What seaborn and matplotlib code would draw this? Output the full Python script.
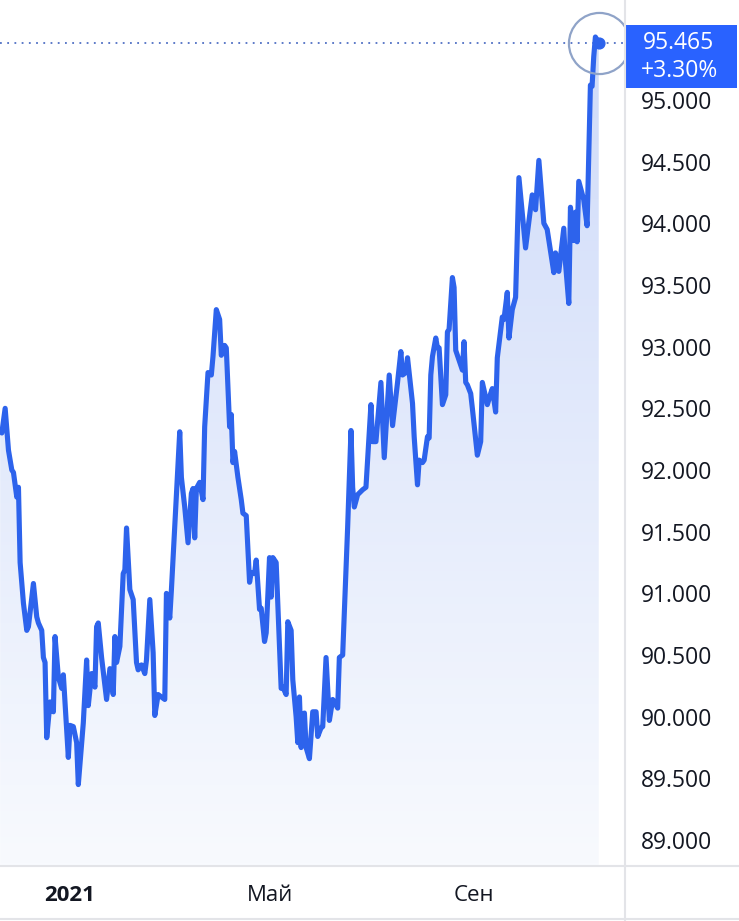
import numpy as np
import pandas as pd
import seaborn as sns
import matplotlib.pyplot as plt
import matplotlib.dates as mdates
from matplotlib.colors import LinearSegmentedColormap
from matplotlib.patches import Rectangle
from matplotlib.lines import Line2D

# DATA: DAY OFFSET FROM 2021-01-01 AND INDEX VALUE
days = [-42, -41, -39, -37, -35, -34, -32, -31, -30, -28, -26, -25, -22, -20, -19, -17,
        -16, -15, -14, -12, -10, -9, -7, -5, -4, -1, 0, 2, 4, 5, 8, 10,
        11, 13, 15, 16, 17, 19, 22, 24, 26, 27, 28, 30, 32, 33, 34, 36,
        38, 40, 41, 43, 45, 46, 48, 50, 51, 53, 55, 57, 58, 60, 61, 66,
        67, 69, 71, 73, 74, 75, 76, 78, 80, 81, 83, 85, 86, 88, 90, 91,
        93, 94, 96, 97, 98, 99, 101, 103, 104, 106, 108, 109, 111, 112, 114, 115,
        117, 118, 120, 121, 122, 124, 127, 128, 130, 131, 133, 134, 136, 137, 138, 139,
        141, 142, 144, 146, 148, 149, 151, 152, 154, 156, 158, 159, 161, 162, 164, 167,
        169, 170, 171, 173, 176, 178, 181, 182, 184, 187, 189, 192, 194, 197, 199, 200,
        202, 203, 206, 207, 209, 210, 212, 213, 215, 216, 217, 218, 220, 221, 222, 224,
        225, 226, 227, 228, 230, 231, 232, 234, 236, 237, 238, 239, 241, 242, 245, 247,
        248, 251, 253, 254, 256, 257, 260, 261, 263, 264, 266, 268, 270, 274, 278, 280,
        282, 285, 287, 291, 292, 294, 297, 298, 300, 301, 303, 304, 305, 306, 309, 311,
        313, 314, 315, 316, 318]
values = [92.32, 92.30, 92.50, 92.16, 92.00, 91.98, 91.78, 91.86, 91.25, 90.92, 90.70, 90.73, 91.08, 90.81, 90.76, 90.70,
          90.48, 90.44, 89.83, 90.12, 90.04, 90.65, 90.32, 90.23, 90.34, 89.67, 89.93, 89.92, 89.79, 89.45, 89.95, 90.46,
          90.09, 90.35, 90.24, 90.73, 90.76, 90.48, 90.14, 90.39, 90.18, 90.65, 90.44, 90.57, 91.16, 91.19, 91.53, 91.03,
          90.95, 90.44, 90.38, 90.42, 90.35, 90.46, 90.95, 90.52, 90.01, 90.18, 90.16, 90.14, 91.00, 90.80, 91.03, 92.31,
          91.94, 91.70, 91.41, 91.81, 91.85, 91.45, 91.85, 91.90, 91.76, 92.35, 92.79, 92.77, 92.92, 93.30, 93.22, 92.93,
          93.01, 92.99, 92.35, 92.45, 92.06, 92.15, 91.94, 91.76, 91.65, 91.63, 91.09, 91.17, 91.16, 91.27, 90.87, 90.88,
          90.61, 90.68, 91.29, 90.97, 91.29, 91.25, 90.23, 90.24, 90.18, 90.77, 90.70, 90.30, 90.00, 89.79, 90.16, 89.75,
          90.03, 89.75, 89.66, 90.04, 90.04, 89.84, 89.91, 89.92, 90.48, 89.97, 90.14, 90.12, 90.07, 90.48, 90.50, 91.54,
          92.32, 91.86, 91.70, 91.80, 91.84, 91.86, 92.53, 92.23, 92.23, 92.71, 92.10, 92.77, 92.36, 92.71, 92.96, 92.77,
          92.79, 92.91, 92.54, 92.27, 91.88, 92.08, 92.06, 92.08, 92.27, 92.26, 92.77, 92.92, 93.07, 92.99, 92.99, 92.53,
          92.57, 92.61, 93.12, 93.14, 93.56, 93.48, 92.97, 92.89, 92.81, 93.04, 92.71, 92.69, 92.62, 92.50, 92.12, 92.23,
          92.71, 92.53, 92.62, 92.66, 92.47, 92.91, 93.24, 93.22, 93.44, 93.07, 93.30, 93.40, 94.37, 93.80, 94.23, 94.11,
          94.51, 94.00, 93.95, 93.60, 93.76, 93.61, 93.96, 93.68, 93.35, 94.13, 93.86, 94.09, 93.85, 94.34, 94.19, 93.98,
          95.12, 95.11, 95.35, 95.51, 95.465]

last_price = "95.465"
last_change = "+3.30%"
y_ticks = [89.0, 89.5, 90.0, 90.5, 91.0, 91.5, 92.0, 92.5, 93.0, 93.5, 94.0, 94.5, 95.0]
x_tick_dates = ["2021-01-01", "2021-05-01", "2021-09-01"]
x_tick_labels = ["2021", "Май", "Сен"]

BLUE = "#2962FF"
LINE_BLUE = "#2D63EC"
SEP_GRAY = "#E3E4E8"

base = pd.Timestamp("2021-01-01")
df = pd.DataFrame({"date": base + pd.to_timedelta(days, unit="D"), "value": values})

sns.set_style("white")
plt.rcParams["font.family"] = ["Open Sans", "DejaVu Sans"]

fig = plt.figure(figsize=(7.39, 9.21), dpi=100)
ax = fig.add_axes([0, 1 - 866 / 921, 623 / 739, 866 / 921])

x0 = base + pd.Timedelta(days=-42.1)
x1 = base + pd.Timedelta(days=332.6)
ymin, ymax = 88.79, 95.81

# GRADIENT FILL UNDER THE LINE
xnum = mdates.date2num(df["date"])
poly = ax.fill_between(df["date"], df["value"], ymin, color="none", lw=0)
cmap = LinearSegmentedColormap.from_list("grad", ["#F8FAFE", "#CFDBF9"])
grad = np.linspace(0, 1, 256).reshape(-1, 1)
img = ax.imshow(grad, cmap=cmap, aspect="auto", origin="lower",
                extent=[xnum.min(), xnum.max(), ymin, df["value"].max()], zorder=1)
img.set_clip_path(poly.get_paths()[0], transform=ax.transData)

sns.lineplot(data=df, x="date", y="value", ax=ax, color=LINE_BLUE, lw=3.7,
             estimator=None, sort=False, zorder=3)

# LAST PRICE LINE, MARKER AND RING
last_date = df["date"].iloc[-1]
last_val = df["value"].iloc[-1]
ax.axhline(last_val, color="#4F6FC4", lw=1.3, ls=(0, (1, 3)), zorder=2)
ax.scatter([last_date], [last_val], s=60, color=LINE_BLUE, zorder=4)
ax.plot([last_date], [last_val], marker="o", ms=44, mfc="none", mec="#8FA3C8",
        mew=1.6, zorder=4, clip_on=False)

ax.set_xlim(x0, x1)
ax.set_ylim(ymin, ymax)
ax.set_xlabel("")
ax.set_ylabel("")

ax.yaxis.tick_right()
ax.set_yticks(y_ticks)
ax.set_yticklabels([f"{v:.3f}" for v in y_ticks])
ax.tick_params(axis="y", length=0, pad=13, labelsize=16.5, labelcolor="#131722")

ax.set_xticks(pd.to_datetime(x_tick_dates))
ax.set_xticklabels(x_tick_labels)
ax.tick_params(axis="x", length=0, pad=14, labelsize=16, labelcolor="#131722")
ax.get_xticklabels()[0].set_fontweight("bold")

for s in ax.spines.values():
    s.set_visible(False)
ax.grid(False)

# PANE SEPARATORS
fig.add_artist(Line2D([624.5 / 739, 624.5 / 739], [0, 1], color=SEP_GRAY, lw=1.5))
fig.add_artist(Line2D([0, 1], [1 - 866 / 921, 1 - 866 / 921], color=SEP_GRAY, lw=1.5))
fig.add_artist(Line2D([0, 1], [1 - 919 / 921, 1 - 919 / 921], color=SEP_GRAY, lw=1.5))

# PRICE LABEL
fig.add_artist(Rectangle((625 / 739, 1 - 88 / 921), 112 / 739, 63 / 921,
                         facecolor=BLUE, edgecolor="none"))
fig.text(679 / 739, 1 - 43 / 921, last_price, color="white", fontsize=16.5,
         ha="center", va="center")
fig.text(679 / 739, 1 - 71 / 921, last_change, color="white", fontsize=16.5,
         ha="center", va="center")

fig.savefig("out.png", dpi=100)
